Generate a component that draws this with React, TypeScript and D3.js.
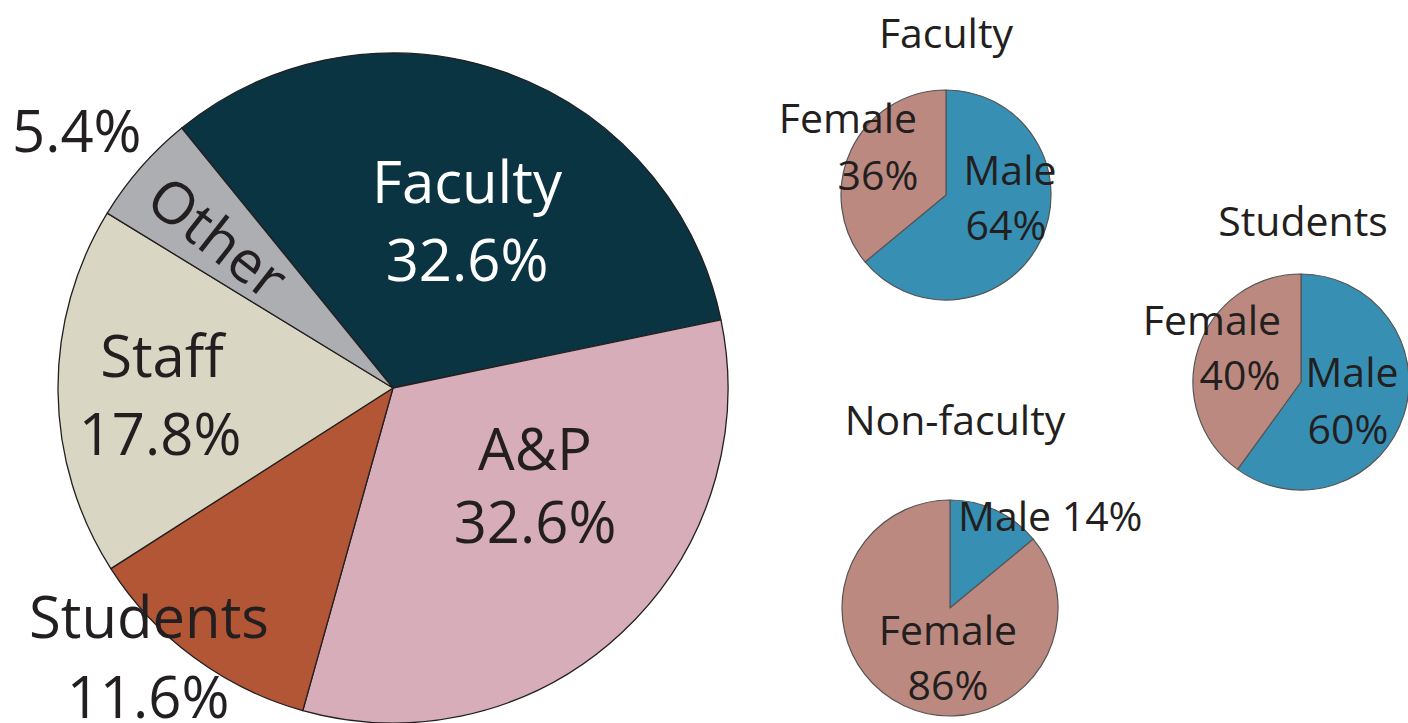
import React from "react";
import * as d3 from "d3";

const mainCategories = ["Faculty", "A&P", "Students", "Staff", "Other"];
const mainValues = [32.6, 32.6, 11.6, 17.8, 5.4];
const mainColors = ["#0a3441", "#d6adb8", "#b25636", "#d9d7c3", "#adaeb1"];

const genderCategories = ["Male", "Female"];
const genderColors = ["#378fb4", "#bb897f"];
const facultyGender = [64, 36];
const studentsGender = [60, 40];
const nonFacultyGender = [14, 86];

const FONT = "'Open Sans', 'Noto Sans', sans-serif";
const TXT = "#231f20";

function Pie({ cx, cy, r, values, colors, start, stroke, sw }: any) {
  const pie = d3.pie<number>().sort(null).startAngle(start).endAngle(start + 2 * Math.PI);
  const arc = d3.arc<d3.PieArcDatum<number>>().innerRadius(0).outerRadius(r);
  return (
    <g transform={`translate(${cx},${cy})`}>
      {pie(values).map((d, i) => (
        <path key={i} d={arc(d) || ""} fill={colors[i]} stroke={stroke} strokeWidth={sw} strokeLinejoin="round" />
      ))}
    </g>
  );
}

function T({ x, y, s, children, anchor = "middle", fill = TXT, rot }: any) {
  return (
    <text x={x} y={y} fontSize={s} textAnchor={anchor} fill={fill} fontFamily={FONT}
      transform={rot !== undefined ? `rotate(${rot},${x},${y})` : undefined}>
      {children}
    </text>
  );
}

export default function App() {
  const mainStart = (-39.1 * Math.PI) / 180;
  const big = 58;
  const sm = 41;
  return (
    <svg width={1408} height={723} style={{ position: "absolute", left: 0, top: 0, background: "#fff" }}>
      <Pie cx={393} cy={388} r={335} values={mainValues} colors={mainColors} start={mainStart} stroke="#231f20" sw={1.3} />
      <Pie cx={946} cy={195} r={105} values={facultyGender} colors={genderColors} start={0} stroke="#555" sw={1.2} />
      <Pie cx={1301} cy={382} r={108} values={studentsGender} colors={genderColors} start={0} stroke="#555" sw={1.2} />
      <Pie cx={950} cy={608} r={108} values={nonFacultyGender} colors={genderColors} start={0} stroke="#555" sw={1.2} />

      {/* main labels */}
      <T x={467} y={203} s={big} fill="#fff">{mainCategories[0]}</T>
      <T x={467} y={281} s={big} fill="#fff">{mainValues[0].toFixed(1)}%</T>
      <T x={535} y={470} s={big}>{mainCategories[1]}</T>
      <T x={535} y={543} s={big}>{mainValues[1].toFixed(1)}%</T>
      <T x={149} y={638} s={big}>{mainCategories[2]}</T>
      <T x={148} y={718} s={big}>{mainValues[2].toFixed(1)}%</T>
      <T x={162} y={377} s={big}>{mainCategories[3]}</T>
      <T x={160} y={455} s={big}>{mainValues[3].toFixed(1)}%</T>
      <T x={205} y={254} s={big} rot={38}>{mainCategories[4]}</T>
      <T x={12} y={152} s={big} anchor="start">{mainValues[4].toFixed(1)}%</T>

      {/* Faculty small */}
      <T x={946} y={48} s={sm}>Faculty</T>
      <T x={848} y={133} s={sm}>{genderCategories[1]}</T>
      <T x={878} y={190} s={sm}>{facultyGender[1]}%</T>
      <T x={1010} y={185} s={sm}>{genderCategories[0]}</T>
      <T x={1006} y={240} s={sm}>{facultyGender[0]}%</T>

      {/* Students small */}
      <T x={1303} y={236} s={sm}>Students</T>
      <T x={1212} y={335} s={sm}>{genderCategories[1]}</T>
      <T x={1240} y={390} s={sm}>{studentsGender[1]}%</T>
      <T x={1352} y={387} s={sm}>{genderCategories[0]}</T>
      <T x={1348} y={444} s={sm}>{studentsGender[0]}%</T>

      {/* Non-faculty small */}
      <T x={955} y={435} s={sm}>Non-faculty</T>
      <T x={958} y={531} s={sm} anchor="start">{genderCategories[0]} {nonFacultyGender[0]}%</T>
      <T x={948} y={645} s={sm}>{genderCategories[1]}</T>
      <T x={948} y={700} s={sm}>{nonFacultyGender[1]}%</T>
    </svg>
  );
}
